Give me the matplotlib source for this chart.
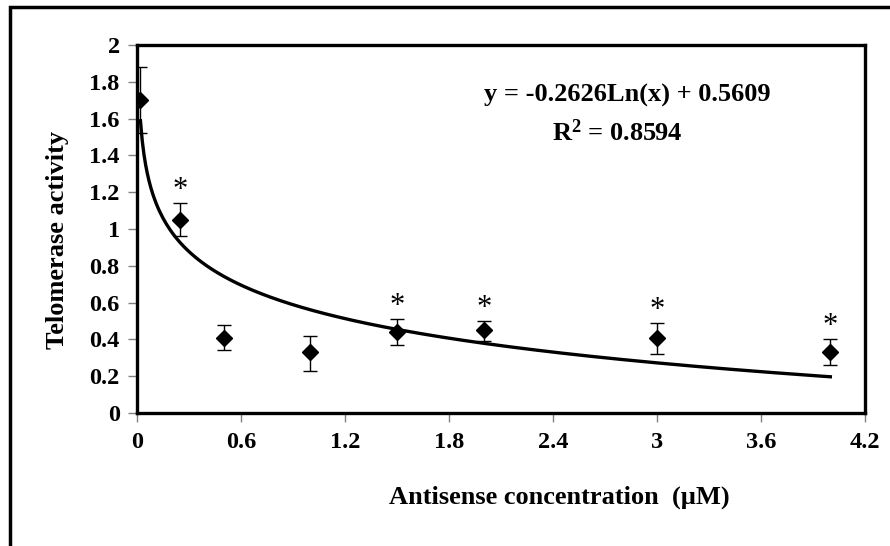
import matplotlib.pyplot as plt
import numpy as np
from matplotlib.patches import Rectangle

# Données
concentration = [0.02, 0.25, 0.5, 1.0, 1.5, 2.0, 3.0, 4.0]
activite = [1.70, 1.05, 0.41, 0.33, 0.44, 0.45, 0.41, 0.33]
erreur_haut = [0.18, 0.09, 0.07, 0.09, 0.07, 0.05, 0.08, 0.07]
erreur_bas = [0.18, 0.09, 0.07, 0.10, 0.07, 0.06, 0.09, 0.07]
significatif = [False, True, False, False, True, True, True, True]

# Courbe de tendance logarithmique (coefficients affichés)
pente = -0.2626
ordonnee = 0.5609
r2 = 0.8594

xticks = [0, 0.6, 1.2, 1.8, 2.4, 3, 3.6, 4.2]
yticks = [0, 0.2, 0.4, 0.6, 0.8, 1, 1.2, 1.4, 1.6, 1.8, 2]

plt.rcParams['font.family'] = ['Liberation Serif', 'DejaVu Serif']
plt.rcParams['font.weight'] = 'bold'
plt.rcParams['mathtext.default'] = 'regular'

fig = plt.figure(figsize=(8.9, 5.46), dpi=100)
ax = fig.add_axes([137 / 890, 1 - 413 / 546, (865 - 137) / 890, (413 - 45) / 546])

# Cadre extérieur (coupé à droite et en bas)
fig.patches.append(Rectangle((9.5 / 890, -0.05), 1.2, 1 - 7.5 / 546 + 0.05,
                             transform=fig.transFigure, fill=False,
                             edgecolor='black', linewidth=2.5))

x_fit = np.linspace(concentration[0], concentration[-1], 400)
y_fit = pente * np.log(x_fit) + ordonnee
ax.plot(x_fit, y_fit, color='black', linewidth=2.4, zorder=2)

ax.errorbar(concentration, activite, yerr=[erreur_bas, erreur_haut], fmt='D',
            color='black', markersize=8, elinewidth=1, capsize=5, capthick=1,
            zorder=3)

for x, y, eh, s in zip(concentration, activite, erreur_haut, significatif):
    if s:
        ax.text(x, y + eh - 0.01, '*', ha='center', va='bottom',
                fontsize=22, fontweight='normal')

ax.text(0.673, 0.862, f'y = {pente:.4f}Ln(x) + {ordonnee:.4f}',
        transform=ax.transAxes, ha='center', va='center', fontsize=19,
        fontweight='bold')
ax.text(0.66, 0.762, f'R$^{{2}}$ = {r2:.4f}', transform=ax.transAxes,
        ha='center', va='center', fontsize=19, fontweight='bold')

ax.set_xlim(0, 4.2)
ax.set_ylim(0, 2)
ax.set_xticks(xticks)
ax.set_xticklabels([f'{t:g}' for t in xticks])
ax.set_yticks(yticks)
ax.set_yticklabels([f'{t:g}' for t in yticks])
ax.tick_params(axis='both', direction='out', length=6.5, width=1, color='gray',
               labelsize=17.5)
ax.tick_params(axis='x', pad=7)
ax.tick_params(axis='y', pad=6)

for s in ax.spines.values():
    s.set_linewidth(2.4)

ax.set_xlabel('Antisense concentration  (µM)', fontsize=19, fontweight='bold')
ax.set_ylabel('Telomerase activity', fontsize=19, fontweight='bold')
ax.xaxis.set_label_coords(0.58, -0.198)
ax.yaxis.set_label_coords(-0.094, 0.47)

fig.savefig('out.png', dpi=100)
